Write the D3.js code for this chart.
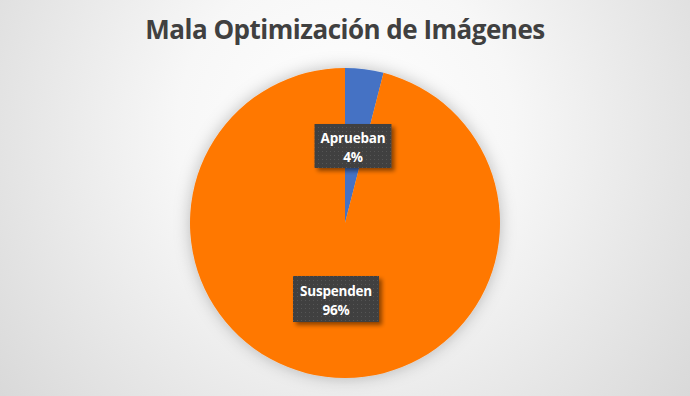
<!DOCTYPE html>
<html>
<head>
<meta charset="utf-8">
<script src="https://cdn.jsdelivr.net/npm/d3@7"></script>
<style>
	html, body { margin: 0; padding: 0; }
	#chart-area { width: 690px; height: 396px; }
</style>
</head>
<body>
<div id="chart-area"></div>
<script>
const categories = ['Aprueban', 'Suspenden'];
const values = [4, 96];
const percentLabels = ['4%', '96%'];
const colors = ['#4472C4', '#FF7800'];

window.addEventListener('DOMContentLoaded', () => {

	const width = 690;
	const height = 396;
	const radius = 155;
	const cx = 345;
	const cy = 223;

	const svg = d3.select('#chart-area')
		.append('svg')
		.attr('width', width)
		.attr('height', height);

	const defs = svg.append('defs');

	const bg = defs.append('radialGradient')
		.attr('id', 'bg')
		.attr('gradientUnits', 'userSpaceOnUse')
		.attr('cx', 345).attr('cy', 130).attr('r', 480);
	bg.append('stop').attr('offset', '0%').attr('stop-color', '#ffffff');
	bg.append('stop').attr('offset', '35%').attr('stop-color', '#f7f7f7');
	bg.append('stop').attr('offset', '100%').attr('stop-color', '#d4d4d4');

	const glow = defs.append('filter')
		.attr('id', 'glow')
		.attr('x', '-20%').attr('y', '-20%').attr('width', '140%').attr('height', '140%');
	glow.append('feDropShadow')
		.attr('dx', 0).attr('dy', 0).attr('stdDeviation', 8)
		.attr('flood-color', '#000').attr('flood-opacity', 0.25);

	const boxShadow = defs.append('filter')
		.attr('id', 'boxShadow')
		.attr('x', '-20%').attr('y', '-20%').attr('width', '150%').attr('height', '160%');
	boxShadow.append('feDropShadow')
		.attr('dx', 3).attr('dy', 3).attr('stdDeviation', 2)
		.attr('flood-color', '#000').attr('flood-opacity', 0.45);

	const dots = defs.append('pattern')
		.attr('id', 'dots')
		.attr('patternUnits', 'userSpaceOnUse')
		.attr('width', 4).attr('height', 4);
	dots.append('rect').attr('width', 4).attr('height', 4).attr('fill', '#404040');
	dots.append('rect').attr('x', 1).attr('y', 1).attr('width', 1).attr('height', 1).attr('fill', '#555555');

	svg.append('rect')
		.attr('width', width)
		.attr('height', height)
		.attr('fill', 'url(#bg)');

	// Title
	svg.append('text')
		.attr('x', 345)
		.attr('y', 39)
		.attr('text-anchor', 'middle')
		.attr('font-family', '"Open Sans", sans-serif')
		.attr('font-weight', 'bold')
		.attr('font-size', 26)
		.attr('letter-spacing', -0.5)
		.attr('fill', '#404040')
		.text('Mala Optimización de Imágenes');

	const data = categories.map((c, i) => ({ name: c, value: values[i], label: percentLabels[i], color: colors[i] }));

	const pie = d3.pie()
		.value((d) => d.value)
		.sort(null);

	const arc = d3.arc()
		.innerRadius(0)
		.outerRadius(radius);

	const g = svg.append('g')
		.attr('transform', `translate(${cx}, ${cy})`);

	g.append('g')
		.attr('filter', 'url(#glow)')
		.selectAll('path')
		.data(pie(data))
		.enter()
			.append('path')
			.attr('d', arc)
			.attr('fill', (d) => d.data.color);

	// Label boxes (centers relative to the pie center)
	const boxSizes = [[77, 44], [86, 46]];
	const labelPos = [[8, -77], [-9, 76]];

	const labels = g.selectAll('.label')
		.data(pie(data))
		.enter()
			.append('g')
			.attr('class', 'label')
			.attr('transform', (d, i) => `translate(${labelPos[i][0]}, ${labelPos[i][1]})`);

	labels.append('rect')
		.attr('x', (d, i) => -boxSizes[i][0] / 2)
		.attr('y', (d, i) => -boxSizes[i][1] / 2)
		.attr('width', (d, i) => boxSizes[i][0])
		.attr('height', (d, i) => boxSizes[i][1])
		.attr('fill', 'url(#dots)')
		.attr('filter', 'url(#boxShadow)');

	const txt = labels.append('text')
		.attr('text-anchor', 'middle')
		.attr('font-family', '"Open Sans", sans-serif')
		.attr('font-weight', 'bold')
		.attr('font-size', 13.5)
		.attr('letter-spacing', -0.2)
		.attr('fill', '#ffffff');
	txt.append('tspan')
		.attr('x', 0)
		.attr('y', -3)
		.text((d) => d.data.name);
	txt.append('tspan')
		.attr('x', 0)
		.attr('y', 16)
		.text((d) => d.data.label);
});
</script>
</body>
</html>
